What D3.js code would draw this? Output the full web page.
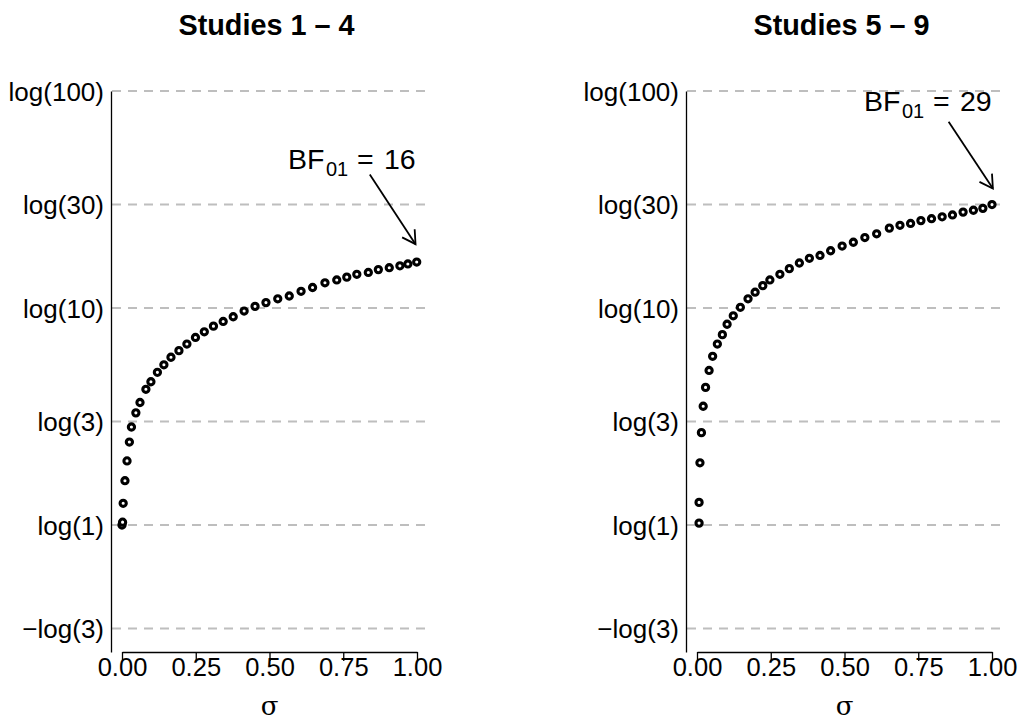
<!DOCTYPE html>
<html>
<head>
<meta charset="utf-8">
<script src="https://cdn.jsdelivr.net/npm/d3@7"></script>
<style>
  html, body { margin: 0; padding: 0; background: #fff; }
  svg { display: block; }
</style>
</head>
<body>
<svg id="chart" width="1019" height="720"></svg>
<script>
// ---------------- data ----------------
const panelTitles = ["Studies 1 \u2013 4", "Studies 5 \u2013 9"];
const bfLabels = ["16", "29"];

const sigmaLeft = [0.000, 0.002, 0.004, 0.010, 0.017, 0.025, 0.032, 0.047, 0.061, 0.081,
  0.098, 0.120, 0.142, 0.166, 0.193, 0.220, 0.249, 0.279, 0.310, 0.343,
  0.377, 0.414, 0.451, 0.488, 0.528, 0.567, 0.607, 0.646, 0.688, 0.728,
  0.762, 0.796, 0.835, 0.869, 0.906, 0.942, 0.969, 0.999];
const logBFLeft = [0.00, 0.03, 0.23, 0.47, 0.68, 0.88, 1.04, 1.19, 1.30, 1.44,
  1.52, 1.62, 1.70, 1.78, 1.85, 1.92, 1.99, 2.05, 2.11, 2.16,
  2.21, 2.27, 2.32, 2.36, 2.40, 2.43, 2.48, 2.52, 2.57, 2.60,
  2.63, 2.66, 2.68, 2.71, 2.73, 2.75, 2.77, 2.79];

const sigmaRight = [0.007, 0.007, 0.010, 0.015, 0.021, 0.029, 0.041, 0.053, 0.069, 0.086,
  0.102, 0.123, 0.147, 0.173, 0.197, 0.223, 0.247, 0.281, 0.313, 0.347,
  0.381, 0.417, 0.453, 0.492, 0.530, 0.569, 0.609, 0.652, 0.688, 0.724,
  0.759, 0.795, 0.831, 0.866, 0.902, 0.937, 0.969, 1.000];
const logBFRight = [0.02, 0.24, 0.66, 0.98, 1.26, 1.46, 1.64, 1.79, 1.92, 2.02,
  2.13, 2.22, 2.31, 2.40, 2.47, 2.54, 2.60, 2.66, 2.72, 2.78,
  2.83, 2.86, 2.91, 2.96, 3.00, 3.05, 3.09, 3.15, 3.18, 3.20,
  3.23, 3.25, 3.27, 3.29, 3.32, 3.34, 3.36, 3.40];

const xTicks = [0, 0.25, 0.5, 0.75, 1];
const yTickValues = [-Math.log(3), Math.log(1), Math.log(3), Math.log(10), Math.log(30), Math.log(100)];
const yTickLabels = ["\u2212log(3)", "log(1)", "log(3)", "log(10)", "log(30)", "log(100)"];

// ---------------- drawing ----------------
const svg = d3.select("#chart");
const FONT = "'Liberation Sans', Arial, Helvetica, sans-serif";

const panels = [
  { title: panelTitles[0], sigma: sigmaLeft, lbf: logBFLeft, bf: bfLabels[0], yAxisX: 111, x0: 122,
    annot: { tx: 288, ty: 169, from: [0.84, 3.72], to: [0.995, 2.98] } },
  { title: panelTitles[1], sigma: sigmaRight, lbf: logBFRight, bf: bfLabels[1], yAxisX: 686, x0: 697,
    annot: { tx: 864, ty: 111, from: [0.853, 4.28], to: [1.003, 3.57] } }
];

const y = d3.scaleLinear().domain([-1.3476, Math.log(100)]).range([652, 91]);

panels.forEach(p => {
  const x = d3.scaleLinear().domain([0, 1]).range([p.x0, p.x0 + 295]);
  const g = svg.append("g");

  // gridlines
  g.selectAll("line.grid").data(yTickValues).enter().append("line")
    .attr("class", "grid")
    .attr("x1", p.yAxisX + 1).attr("x2", p.x0 + 305)
    .attr("y1", d => y(d)).attr("y2", d => y(d))
    .attr("stroke", "#bebebe").attr("stroke-width", 2)
    .attr("stroke-dasharray", "9,7");

  // y axis
  const yAxis = d3.axisLeft(y).tickValues(yTickValues)
    .tickFormat((d, i) => yTickLabels[i]).tickSize(0).tickPadding(7);
  const ya = g.append("g").attr("transform", `translate(${p.yAxisX},0)`).call(yAxis);
  ya.select(".domain").attr("stroke", "#000").attr("stroke-width", 1.3);
  ya.selectAll("text").attr("font-family", FONT).attr("font-size", 26).attr("fill", "#000")
    .attr("dy", "0.35em");

  // x axis
  const xAxis = d3.axisBottom(x).tickValues(xTicks).tickFormat(d3.format(".2f"))
    .tickSize(9).tickSizeOuter(0).tickPadding(-3);
  const xa = g.append("g").attr("transform", "translate(0,652)").call(xAxis);
  xa.select(".domain").attr("stroke", "#000").attr("stroke-width", 1.3);
  xa.selectAll(".tick line").attr("stroke", "#000").attr("stroke-width", 1.3);
  xa.selectAll("text").attr("font-family", FONT).attr("font-size", 25.5).attr("fill", "#000");

  // x label
  g.append("text").attr("x", x(0.5)).attr("y", 715).attr("text-anchor", "middle")
    .attr("font-family", "'DejaVu Serif', 'Liberation Serif', serif").attr("font-size", 26)
    .text("\u03C3");

  // title
  g.append("text").attr("x", x(0.5) - 3).attr("y", 35).attr("text-anchor", "middle")
    .attr("font-family", FONT).attr("font-size", 28.8).attr("font-weight", "bold")
    .text(p.title);

  // points
  const pts = p.sigma.map((s, i) => ({ s, v: p.lbf[i] }));
  g.selectAll("circle").data(pts).enter().append("circle")
    .attr("cx", d => x(d.s)).attr("cy", d => y(d.v)).attr("r", 3.1)
    .attr("fill", "#fff").attr("stroke", "#000").attr("stroke-width", 3.1);

  // annotation text
  const tx = p.annot.tx, ty = p.annot.ty;
  const ta = g.append("g").attr("font-family", FONT).attr("fill", "#000");
  ta.append("text").attr("x", tx).attr("y", ty).attr("font-size", 28.5).text("BF");
  ta.append("text").attr("x", tx + 38).attr("y", ty + 7).attr("font-size", 20).text("01");
  ta.append("text").attr("x", tx + 69).attr("y", ty).attr("font-size", 28.5).text("=");
  ta.append("text").attr("x", tx + 96).attr("y", ty).attr("font-size", 28.5).text(p.bf);

  // arrow
  const x1 = x(p.annot.from[0]), y1 = y(p.annot.from[1]);
  const x2 = x(p.annot.to[0]), y2 = y(p.annot.to[1]);
  g.append("line").attr("x1", x1).attr("y1", y1).attr("x2", x2).attr("y2", y2)
    .attr("stroke", "#000").attr("stroke-width", 1.8);
  const ang = Math.atan2(y2 - y1, x2 - x1);
  const hl = 15, ha = Math.PI / 6;
  const head = [ang + Math.PI - ha, ang + Math.PI + ha].map(a => [x2 + hl * Math.cos(a), y2 + hl * Math.sin(a)]);
  g.append("path")
    .attr("d", `M${head[0][0]},${head[0][1]}L${x2},${y2}L${head[1][0]},${head[1][1]}`)
    .attr("fill", "none").attr("stroke", "#000").attr("stroke-width", 1.8);
});
</script>
</body>
</html>
